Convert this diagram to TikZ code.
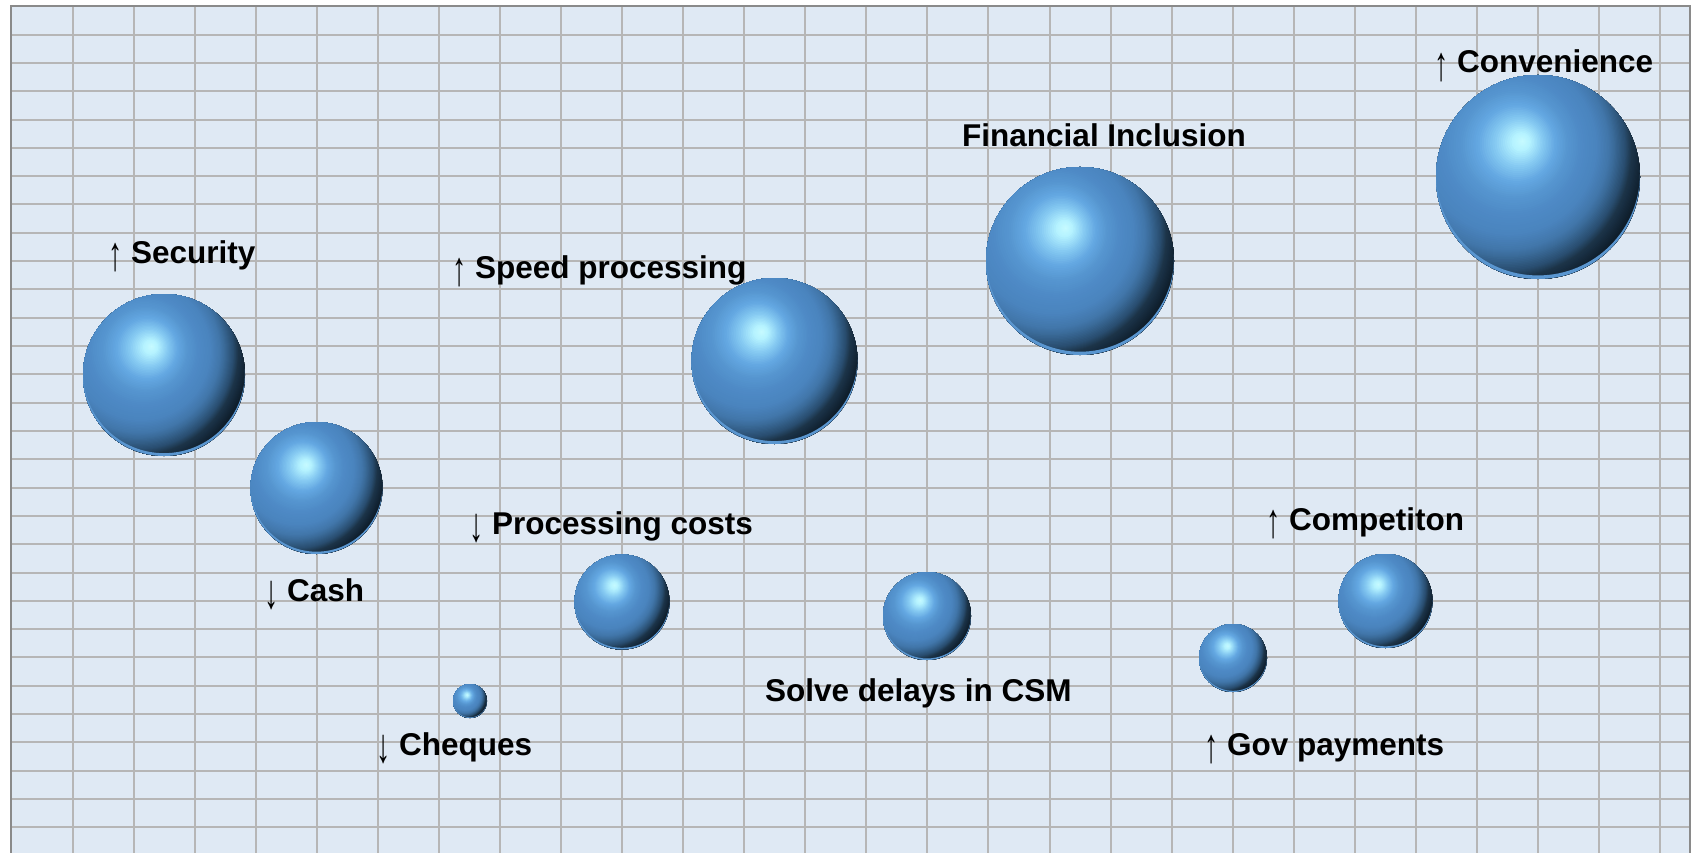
\documentclass[tikz,border=0pt]{standalone}
\usepackage{fontspec}
\usepackage{graphicx}
\setmainfont{Liberation Sans}
\usetikzlibrary{calc}
\definecolor{plotbg}{HTML}{DFE9F4}
\definecolor{gridc}{HTML}{B6B6B6}
\definecolor{borderc}{HTML}{8A8A8A}
\definecolor{rimc}{HTML}{5A96D0}
\definecolor{sA}{HTML}{C8FCFF}
\definecolor{sB}{HTML}{B4F2FF}
\definecolor{sC}{HTML}{86CAF2}
\definecolor{sD}{HTML}{64A8E2}
\definecolor{sE}{HTML}{5696D0}
\definecolor{sF}{HTML}{4E8AC6}
\definecolor{sG}{HTML}{4A84BE}
\definecolor{sH}{HTML}{4277AB}
\definecolor{sI}{HTML}{3A6A98}
\definecolor{sJ}{HTML}{2A4F72}
\definecolor{sK}{HTML}{1C3448}
\definecolor{sL}{HTML}{182E42}
\definecolor{sN}{HTML}{0F1E2B}
\definecolor{sM}{HTML}{0E1C28}
% explicit radial gradient: circles interpolated between the highlight point
% (t=0) and a large circle (t=1, radius 1.6 r) centred up-left of the sphere
\newcommand\spherebody[1]{%
  \coordinate (spc) at (path picture bounding box.center);
  \foreach \sTa/\sTb/\sCa/\sCb in {0.89/1.0/sN/sM, 0.82/0.89/sL/sN, 0.795/0.82/sK/sL,
      0.745/0.795/sJ/sK, 0.67/0.745/sI/sJ, 0.625/0.67/sH/sI, 0.54/0.625/sG/sH,
      0.43/0.54/sF/sG, 0.33/0.43/sE/sF, 0.24/0.33/sD/sE, 0.15/0.24/sC/sD,
      0.06/0.15/sB/sC, 0/0.06/sA/sB} {
    \foreach \sJ in {0,...,7} {
      \pgfmathsetmacro\tval{\sTb-(\sTb-\sTa)*\sJ/8}
      \pgfmathsetmacro\pct{100*(1-\sJ/8)}
      \pgfmathsetmacro\cxv{((1-\tval)*(-0.15)+\tval*(-0.4))*#1}
      \pgfmathsetmacro\cyv{((1-\tval)*0.35+\tval*0.25)*#1}
      \pgfmathsetmacro\rv{\tval*1.6*#1+0.01}
      \fill[\sCb!\pct!\sCa] ($(spc)+(\cxv pt,\cyv pt)$) circle (\rv pt);
    }
  }%
  \fill[rimc, even odd rule] ($(spc)+(-1.2*#1pt,-1.2*#1pt)$) rectangle ($(spc)+(1.2*#1pt,1.2*#1pt)$)
        ($(spc)+(0,0.035*#1pt)$) circle ({#1pt});
}
\newcommand\arrglyph[1]{\raisebox{-0.25em}{\scalebox{0.9}[1.54]{\mdseries #1}}}
\newcommand\uparr{\arrglyph{↑}\ }
\newcommand\dnarr{\arrglyph{↓}\ }
\tikzset{
  ball/.style={circle, inner sep=0pt, draw=none, minimum size={2*#1 pt},
    path picture={\spherebody{#1}}},
  lbl/.style={anchor=base west, inner sep=0pt, font=\fontsize{31.5}{36}\selectfont\bfseries},
  gridline/.style={draw=gridc, line width=2pt},
}
\begin{document}
\begin{tikzpicture}[x=1pt,y=-1pt]
\useasboundingbox (0,0) rectangle (1694,853);
\fill[white] (0,0) rectangle (1694,853);
\fill[plotbg] (11,6) rectangle (1690,853);
\begin{scope}
\clip (11,6) rectangle (1690,853);
\foreach \k in {1,...,27} \draw[gridline] ({11.5+61.06*\k},6) -- ({11.5+61.06*\k},853);
\foreach \k in {1,...,30} \draw[gridline] (11,{6.3+28.31*\k}) -- (1690,{6.3+28.31*\k});
\end{scope}
\draw[borderc, line width=2.5pt] (11,853) -- (11,6) -- (1690,6) -- (1690,853);

% spheres
\node[ball=81] (security) at (164,375) {};
\node[ball=66] (cash) at (316.5,488) {};
\node[ball=83] (speed) at (774.5,361) {};
\node[ball=94] (fin) at (1080,261) {};
\node[ball=102] (conv) at (1538,177) {};
\node[ball=47.5] (proc) at (622,602) {};
\node[ball=17] (cheq) at (470,701) {};
\node[ball=44] (csm) at (927,616) {};
\node[ball=34] (gov) at (1233,658) {};
\node[ball=47] (comp) at (1385.5,601) {};

% labels
\node[lbl] (lsecurity) at (108,263) {\uparr Security};
\node[lbl] (lspeed) at (452,278) {\uparr Speed processing};
\node[lbl] (lfin) at (962,147) {Financial Inclusion};
\node[lbl] (lconv) at (1434,73) {\uparr Convenience};
\node[lbl] (lcash) at (264,601) {\dnarr Cash};
\node[lbl] (lproc) at (469,534) {\dnarr Processing costs};
\node[lbl] (lcheq) at (376,755) {\dnarr Cheques};
\node[lbl] (lcsm) at (765,701) {Solve delays in CSM};
\node[lbl] (lcomp) at (1266,530) {\uparr Competiton};
\node[lbl] (lgov) at (1204,755) {\uparr Gov payments};
\end{tikzpicture}
\end{document}
